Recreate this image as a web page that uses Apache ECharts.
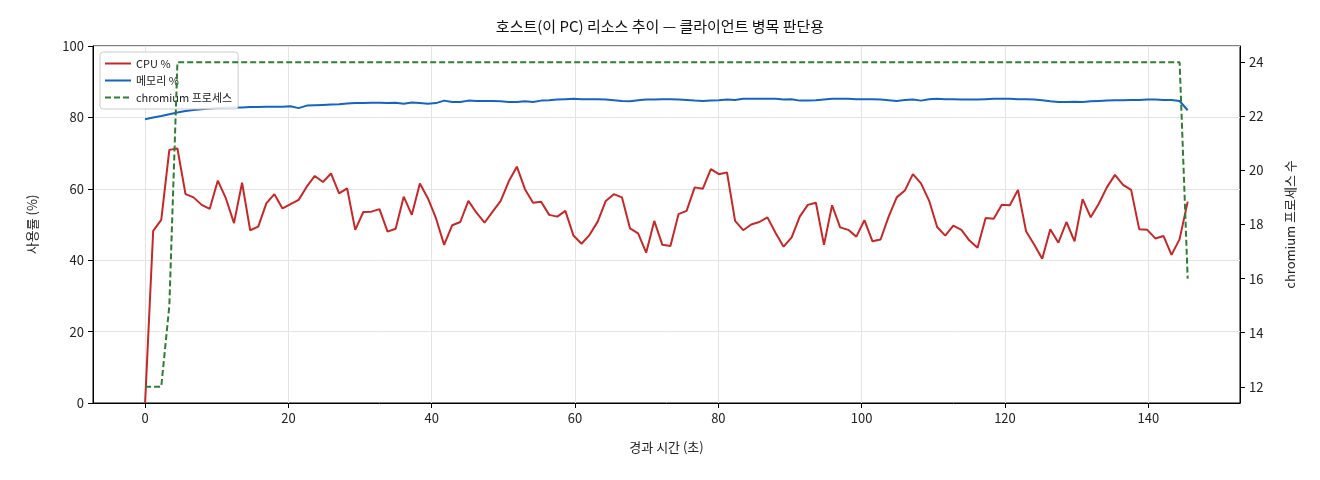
<!DOCTYPE html>
<html><head><meta charset="utf-8">
<script src="https://cdn.jsdelivr.net/npm/echarts@6/dist/echarts.min.js"></script>
<style>html,body{margin:0;padding:0;background:#fff}#c{width:1320px;height:480px}</style>
</head><body><div id="c"></div>
<script>
const sampleStep = 145.5 / 129;
const cpu = [0,48.2,51.3,70.9,71.3,58.5,57.6,55.5,54.4,62.3,57.3,50.4,61.7,48.4,49.4,55.9,58.5,54.5,55.7,56.9,60.6,63.6,61.9,64.3,58.7,60.1,48.5,53.5,53.6,54.3,48,48.8,57.8,52.7,61.5,57.3,51.7,44.3,49.8,50.7,56.6,53.3,50.5,53.6,56.6,62.1,
66.2,59.9,56.1,56.4,52.7,52.2,53.8,46.9,44.6,47.1,50.8,56.6,58.5,57.6,48.9,47.5,42.1,51,44.3,44,52.9,53.8,60.4,60,65.5,64.1,64.6,51,48.4,50,50.7,52,47.7,43.8,46.4,52.2,55.5,56.1,44.3,55.4,49.2,48.5,46.6,51.2,45.3,
45.8,52.2,57.6,59.5,64.1,61.5,56.7,49.3,46.9,49.7,48.5,45.5,43.5,51.8,51.6,55.5,55.4,59.7,48.1,44.4,40.4,48.7,44.9,50.7,45.3,57.1,52,55.8,60.4,63.9,61.1,59.7,48.7,48.5,46.1,46.8,41.5,45.9,56.4];
const mem = [79.5,80,80.4,80.9,81.4,81.8,82.1,82.3,82.5,82.6,
82.7,82.8,82.8,82.9,82.9,83,83,83,83.1,82.6,
83.3,83.4,83.5,83.6,83.7,83.9,84,84,84.1,84.1,
84,84.1,83.8,84.2,84,83.8,84,84.7,84.3,84.3,
84.7,84.6,84.6,84.6,84.5,84.3,84.3,84.5,84.3,84.7,
84.8,85,85.1,85.2,85.1,85.1,85.1,85,84.8,84.6,
84.5,84.8,85,85,85.1,85.1,85,84.9,84.7,84.6,
84.7,84.8,85,84.9,85.2,85.2,85.2,85.2,85.2,85,
85.1,84.7,84.7,84.8,85,85.2,85.2,85.2,85.1,85.1,
85.1,85,84.8,84.6,84.9,85,84.7,85.1,85.2,85.1,
85.1,85,85,85,85.1,85.2,85.2,85.2,85.1,85.1,
85,84.8,84.5,84.3,84.3,84.4,84.3,84.5,84.6,84.7,
84.8,84.8,84.9,84.9,85,85,84.9,84.9,84.6,82];
const procs = [12,12,12,15,
24,24,24,24,24,24,24,24,24,24,24,24,24,24,24,24,24,24,24,24,24,24,24,24,24,
24,24,24,24,24,24,24,24,24,24,24,24,24,24,24,24,24,24,24,24,24,24,24,24,24,
24,24,24,24,24,24,24,24,24,24,24,24,24,24,24,24,24,24,24,24,24,24,24,24,24,
24,24,24,24,24,24,24,24,24,24,24,24,24,24,24,24,24,24,24,24,24,24,24,24,24,
24,24,24,24,24,24,24,24,24,24,24,24,24,24,24,24,24,24,24,24,24,24,24,24,24,
16];
const xTicks = [0,20,40,60,80,100,120,140];
const y2Ticks = [12,14,16,18,20,22,24];

const pair = arr => arr.map((v,i)=>[i*sampleStep, v]);
const F = '"Noto Sans CJK KR", "Noto Sans", sans-serif';
const chart = echarts.init(document.getElementById('c'));
chart.setOption({
  animation:false,
  textStyle:{fontFamily:F},
  title:{text:'호스트(이 PC) 리소스 추이 — 클라이언트 병목 판단용',left:'center',top:14,
    textStyle:{fontSize:15,fontWeight:'normal',color:'#111',fontFamily:F}},
  grid:{left:93,right:80,top:46,bottom:77,show:true,borderColor:'#000',borderWidth:1,backgroundColor:'transparent'},
  legend:{orient:'vertical',left:100,top:52,itemWidth:26,itemHeight:10,itemGap:6,
    backgroundColor:'rgba(255,255,255,0.85)',borderColor:'#ccc',borderWidth:1,borderRadius:3,padding:[6,6,6,4],
    itemStyle:{opacity:0},
    textStyle:{fontSize:11,color:'#222',fontFamily:F},
    data:['CPU %','메모리 %','chromium 프로세스']},
  xAxis:{type:'value',min:-7.27,max:152.8,name:'경과 시간 (초)',nameLocation:'middle',nameGap:38,
    nameTextStyle:{fontSize:13,color:'#222'},
    axisLine:{onZero:false,lineStyle:{color:'#000'}},
    axisTick:{customValues:xTicks,length:5,lineStyle:{color:'#000'}},
    axisLabel:{customValues:xTicks,fontSize:13,color:'#222',margin:9},
    splitLine:{show:true,lineStyle:{color:'#e4e4e4'}}},
  yAxis:[
    {type:'value',min:0,max:100,interval:20,name:'사용률 (%)',nameLocation:'middle',nameGap:54,
     nameTextStyle:{fontSize:13,color:'#222'},
     axisLine:{show:true,onZero:false,lineStyle:{color:'#000'}},
     axisTick:{show:true,length:5,lineStyle:{color:'#000'}},
     axisLabel:{fontSize:13,color:'#222',margin:9},
     splitLine:{show:true,lineStyle:{color:'#e4e4e4'}}},
    {type:'value',min:11.4,max:24.6,position:'right',name:'chromium 프로세스 수',nameLocation:'middle',nameGap:44,
     nameRotate:90,
     nameTextStyle:{fontSize:13,color:'#222'},
     axisLine:{show:true,onZero:false,lineStyle:{color:'#000'}},
     axisTick:{show:true,customValues:y2Ticks,length:5,lineStyle:{color:'#000'}},
     axisLabel:{customValues:y2Ticks,fontSize:13,color:'#222',margin:9},
     splitLine:{show:false}}
  ],
  series:[
    {name:'CPU %',type:'line',data:pair(cpu),symbol:'none',lineStyle:{color:'#c62828',width:2},itemStyle:{color:'#c62828'},z:3},
    {name:'메모리 %',type:'line',data:pair(mem),symbol:'none',lineStyle:{color:'#1565c0',width:2},itemStyle:{color:'#1565c0'},z:3},
    {name:'chromium 프로세스',type:'line',yAxisIndex:1,data:pair(procs),symbol:'none',
     lineStyle:{color:'#2e7d32',width:2,type:[6,3]},itemStyle:{color:'#2e7d32'},z:4}
  ]
});
</script></body></html>
